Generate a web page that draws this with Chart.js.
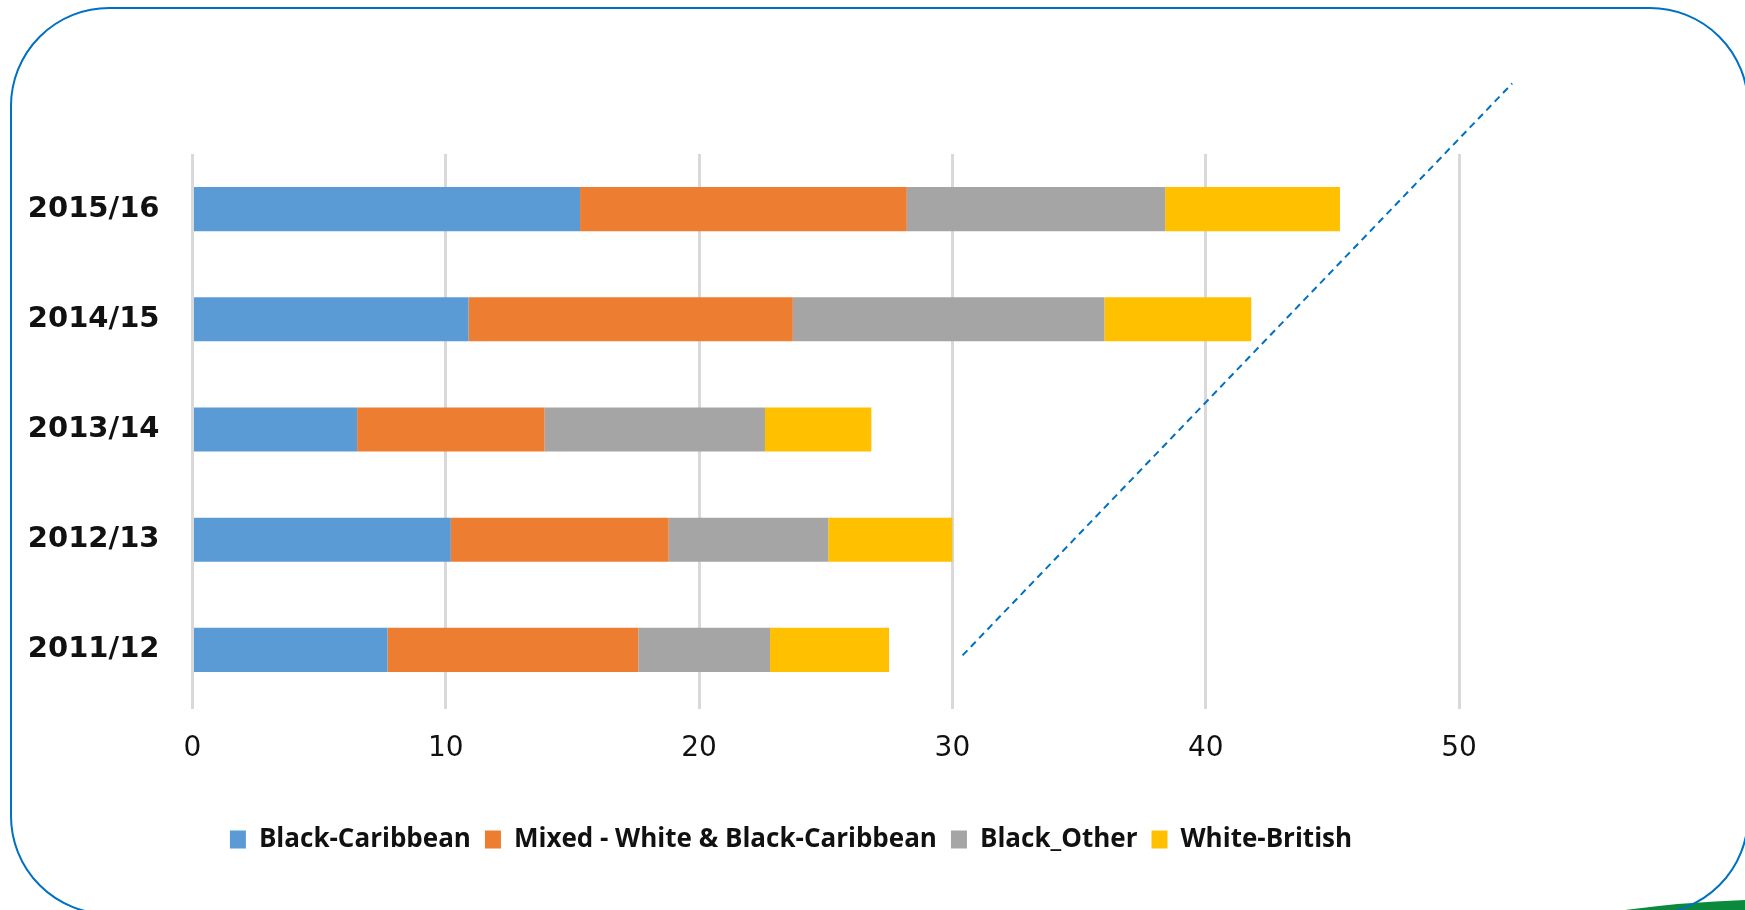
<!DOCTYPE html>
<html>
<head>
<meta charset="utf-8">
<title>Ethnicity by year</title>
<script src="https://cdn.jsdelivr.net/npm/chart.js@4.4.0/dist/chart.umd.min.js"></script>
<style>
  html, body { margin: 0; padding: 0; background: #fff; overflow: hidden; }
  #wrap { width: 1745px; height: 910px; position: relative; }
</style>
</head>
<body>
<div id="wrap"><canvas id="chart" width="1745" height="910"></canvas></div>
<script>
// years, bottom to top
const years = ['2011/12', '2012/13', '2013/14', '2014/15', '2015/16'];

const blackCaribbean = [7.7, 10.2, 6.5, 10.9, 15.3];
const mixedWhiteBlackCaribbean = [9.9, 8.6, 7.4, 12.8, 12.9];
const blackOther = [5.2, 6.3, 8.7, 12.3, 10.2];
const whiteBritish = [4.7, 4.9, 4.2, 5.8, 6.9];

const xTicks = [0, 10, 20, 30, 40, 50];

// dashed trend arrow, in axis units (x value, category index)
const trendLine = [{x: 30.4, y: -0.05}, {x: 52.1, y: 5.14}];

const seriesNames = ['Black-Caribbean', 'Mixed - White & Black-Caribbean', 'Black_Other', 'White-British'];
const seriesColors = ['#5B9BD5', '#ED7D31', '#A5A5A5', '#FFC000'];
const seriesValues = [blackCaribbean, mixedWhiteBlackCaribbean, blackOther, whiteBritish];

// rounded blue frame + green sliver in the corner
const framePlugin = {
    id: 'frame',
    beforeDraw(chart) {
        const ctx = chart.ctx;
        const w = chart.width, h = chart.height;
        ctx.save();
        ctx.fillStyle = '#0b8a3c';
        ctx.beginPath();
        ctx.moveTo(w - 120, h);
        ctx.quadraticCurveTo(w - 60, h - 8, w, h - 10);
        ctx.lineTo(w, h);
        ctx.closePath();
        ctx.fill();

        const l = 11, t = 8, r = w + 3, b = h + 4, rad = 98;
        ctx.strokeStyle = '#0070C0';
        ctx.lineWidth = 2;
        ctx.beginPath();
        ctx.moveTo(l + rad, t);
        ctx.lineTo(r - rad, t);
        ctx.arcTo(r, t, r, t + rad, rad);
        ctx.lineTo(r, b - rad);
        ctx.arcTo(r, b, r - rad, b, rad);
        ctx.lineTo(l + rad, b);
        ctx.arcTo(l, b, l, b - rad, rad);
        ctx.lineTo(l, t + rad);
        ctx.arcTo(l, t, l + rad, t, rad);
        ctx.stroke();
        ctx.restore();
    }
};

const trendPlugin = {
    id: 'trend',
    afterDatasetsDraw(chart) {
        const ctx = chart.ctx;
        const xs = chart.scales.x, ys = chart.scales.y;
        ctx.save();
        ctx.strokeStyle = '#0070C0';
        ctx.lineWidth = 2;
        ctx.setLineDash([7, 5]);
        ctx.beginPath();
        trendLine.forEach((p, i) => {
            const px = xs.getPixelForValue(p.x);
            const py = ys.getPixelForValue(p.y);
            if (i === 0) ctx.moveTo(px, py); else ctx.lineTo(px, py);
        });
        ctx.stroke();
        ctx.restore();
    }
};

new Chart(document.getElementById('chart'), {
    type: 'bar',
    data: {
        labels: years,
        datasets: seriesNames.map((name, i) => ({
            label: name,
            data: seriesValues[i],
            backgroundColor: seriesColors[i],
            borderWidth: 0,
            categoryPercentage: 0.8,
            barPercentage: 0.5
        }))
    },
    options: {
        indexAxis: 'y',
        responsive: false,
        animation: false,
        devicePixelRatio: 1,
        layout: { padding: { left: 0, right: 163, top: 154, bottom: 47.5 } },
        scales: {
            x: {
                stacked: true,
                min: xTicks[0],
                max: xTicks[xTicks.length - 1],
                afterBuildTicks: (scale) => { scale.ticks = xTicks.map(v => ({value: v})); },
                afterFit: (scale) => { scale.height = 107.5; },
                grid: { color: '#d9d9d9', lineWidth: 3, drawTicks: true, tickLength: 4 },
                border: { display: false },
                ticks: {
                    color: '#111',
                    padding: 23,
                    maxRotation: 0,
                    font: { family: 'DejaVu Sans', size: 28 }
                }
            },
            y: {
                stacked: true,
                reverse: true,
                afterFit: (scale) => { scale.width = 192.5; },
                grid: { display: false, drawTicks: false },
                border: { display: false },
                ticks: {
                    color: '#111',
                    padding: 33,
                    font: { family: 'DejaVu Sans', size: 29, weight: 'bold' }
                }
            },
            // empty space on the right, keeps the plot narrower than the legend row
            yRight: {
                type: 'category',
                position: 'right',
                afterFit: (scale) => { scale.width = 123; },
                grid: { display: false, drawTicks: false },
                border: { display: false },
                ticks: { display: false }
            }
        },
        plugins: {
            tooltip: { enabled: false },
            legend: {
                position: 'bottom',
                labels: {
                    boxWidth: 16,
                    boxHeight: 18,
                    padding: 14,
                    color: '#111',
                    font: { family: 'Open Sans', size: 26, weight: 'bold' }
                }
            }
        }
    },
    plugins: [framePlugin, trendPlugin]
});
</script>
</body>
</html>
